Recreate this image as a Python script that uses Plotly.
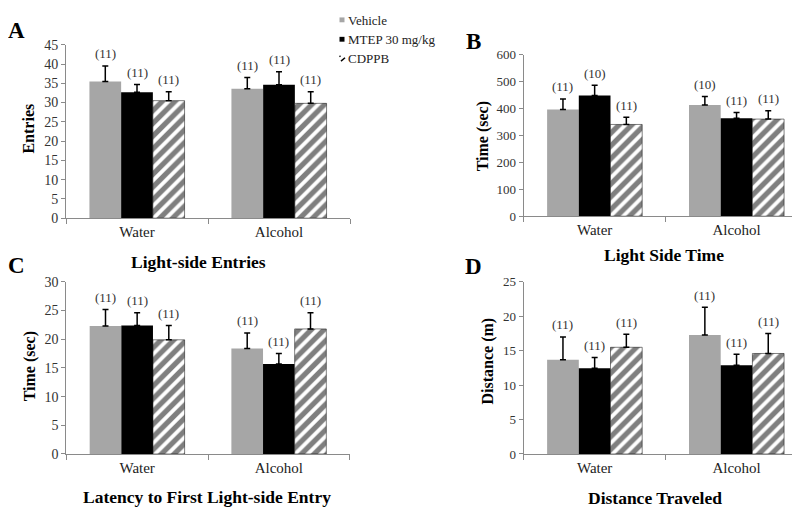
import plotly.graph_objects as go

categories = ["Water", "Alcohol"]
groups = ["Vehicle", "MTEP 30 mg/kg", "CDPPB"]

# Panel A: Light-side Entries
a_means = {"Vehicle": [35.5, 33.6], "MTEP 30 mg/kg": [32.7, 34.6], "CDPPB": [30.5, 29.8]}
a_errs = {"Vehicle": [4.0, 2.9], "MTEP 30 mg/kg": [2.0, 3.4], "CDPPB": [2.3, 3.0]}
a_ns = {"Vehicle": [11, 11], "MTEP 30 mg/kg": [11, 11], "CDPPB": [11, 11]}

# Panel B: Light Side Time
b_means = {"Vehicle": [397, 413], "MTEP 30 mg/kg": [449, 364], "CDPPB": [341, 361]}
b_errs = {"Vehicle": [39, 32], "MTEP 30 mg/kg": [38, 21], "CDPPB": [27, 31]}
b_ns = {"Vehicle": [11, 10], "MTEP 30 mg/kg": [10, 11], "CDPPB": [11, 11]}

# Panel C: Latency to First Light-side Entry
c_means = {"Vehicle": [22.3, 18.4], "MTEP 30 mg/kg": [22.4, 15.7], "CDPPB": [19.9, 21.8]}
c_errs = {"Vehicle": [2.9, 2.7], "MTEP 30 mg/kg": [2.2, 1.8], "CDPPB": [2.5, 2.8]}
c_ns = {"Vehicle": [11, 11], "MTEP 30 mg/kg": [11, 11], "CDPPB": [11, 11]}

# Panel D: Distance Traveled
d_means = {"Vehicle": [13.7, 17.3], "MTEP 30 mg/kg": [12.45, 12.9], "CDPPB": [15.5, 14.6]}
d_errs = {"Vehicle": [3.3, 4.0], "MTEP 30 mg/kg": [1.55, 1.6], "CDPPB": [1.9, 2.9]}
d_ns = {"Vehicle": [11, 11], "MTEP 30 mg/kg": [11, 11], "CDPPB": [11, 11]}

panels = [
    dict(key="A", means=a_means, errs=a_errs, ns=a_ns, ymax=45, dtick=5, ytitle="Entries",
         title="Light-side Entries"),
    dict(key="B", means=b_means, errs=b_errs, ns=b_ns, ymax=600, dtick=100, ytitle="Time (sec)",
         title="Light Side Time"),
    dict(key="C", means=c_means, errs=c_errs, ns=c_ns, ymax=30, dtick=5, ytitle="Time (sec)",
         title="Latency to First Light-side Entry"),
    dict(key="D", means=d_means, errs=d_errs, ns=d_ns, ymax=25, dtick=5, ytitle="Distance (m)",
         title="Distance Traveled"),
]

W, H = 800, 509
def px_x(p): return p / W
def px_y(p): return 1 - p / H

# layout geometry (pixels)
geom = {
    "A": dict(x=(58, 342), y=(30.7, 209.3), letter=(8.5, 15.5), ytitle=(21, 117), title=(190, 255),
              tick=14),
    "B": dict(x=(515.7, 799.5), y=(41, 207.3), letter=(465, 27.5), ytitle=(475, 125), title=(656, 247),
              tick=13),
    "C": dict(x=(58.3, 341.7), y=(275, 452.3), letter=(8, 258), ytitle=(22, 362), title=(199, 497),
              tick=14),
    "D": dict(x=(515.7, 799.5), y=(275, 452.3), letter=(465, 259.5), ytitle=(480, 357), title=(647, 498),
              tick=13),
}

FONT = "Liberation Serif, Times New Roman, DejaVu Serif, serif"
AXIS_COLOR = "#8a8a8a"
TEXT_COLOR = "#333333"
BARGAP = 0.33

styles = {
    "Vehicle": dict(marker=dict(color="#a6a6a6", line=dict(width=0))),
    "MTEP 30 mg/kg": dict(marker=dict(color="#000000", line=dict(width=0))),
    "CDPPB": dict(marker=dict(color="white", line=dict(color="black", width=0.5),
                              pattern=dict(shape="/", fgcolor="black", bgcolor="white",
                                           size=9, solidity=0.58))),
}

fig = go.Figure()
annotations = []
shapes = []

for i, p in enumerate(panels):
    k = p["key"]
    g = geom[k]
    xa = "x" if i == 0 else f"x{i+1}"
    ya = "y" if i == 0 else f"y{i+1}"
    for j, grp in enumerate(groups):
        fig.add_trace(go.Bar(
            x=categories, y=p["means"][grp], name=grp, xaxis=xa, yaxis=ya,
            showlegend=False,
            error_y=dict(type="data", array=p["errs"][grp], arrayminus=[0, 0], symmetric=False,
                         color="black", thickness=1.5, width=3),
            **styles[grp],
        ))
        w = (1 - BARGAP) / len(groups)
        for ci, cat in enumerate(categories):
            annotations.append(dict(
                x=ci + (j - 1) * w, y=p["means"][grp][ci] + p["errs"][grp][ci],
                xref=xa, yref=ya, text=f"({p['ns'][grp][ci]})", showarrow=False,
                yanchor="middle", yshift=12,
                font=dict(family=FONT, size=13, color=TEXT_COLOR),
            ))
    axis_x = dict(domain=[px_x(g["x"][0]), px_x(g["x"][1])], anchor=ya, type="category",
                  showline=True, linecolor=AXIS_COLOR, linewidth=1, showgrid=False,
                  ticks="outside", tickson="boundaries", ticklen=5, tickcolor=AXIS_COLOR,
                  tickfont=dict(family=FONT, size=15, color="#222222"), ticklabelstandoff=0,
                  zeroline=False, fixedrange=True)
    axis_y = dict(domain=[px_y(g["y"][1]), px_y(g["y"][0])], anchor=xa,
                  range=[0, p["ymax"]], dtick=p["dtick"], showline=True, linecolor=AXIS_COLOR,
                  linewidth=1, showgrid=False, zeroline=False, ticks="outside", ticklen=4,
                  tickcolor=AXIS_COLOR, tickfont=dict(family=FONT, size=g["tick"], color=TEXT_COLOR))
    fig.update_layout(**{("xaxis" if i == 0 else f"xaxis{i+1}"): axis_x,
                         ("yaxis" if i == 0 else f"yaxis{i+1}"): axis_y})
    # panel letter
    annotations.append(dict(x=px_x(g["letter"][0]), y=px_y(g["letter"][1]), xref="paper", yref="paper",
                            text=f"<b>{k}</b>", showarrow=False, xanchor="center", yanchor="middle",
                            font=dict(family=FONT, size=23, color="black")))
    # y-axis title
    annotations.append(dict(x=px_x(g["ytitle"][0]), y=px_y(g["ytitle"][1]), xref="paper", yref="paper",
                            text=f"<b>{p['ytitle']}</b>", showarrow=False, textangle=-90,
                            xanchor="center", yanchor="middle",
                            font=dict(family=FONT, size=16, color="black")))
    # panel title
    annotations.append(dict(x=px_x(g["title"][0]), y=px_y(g["title"][1]), xref="paper", yref="paper",
                            text=f"<b>{p['title']}</b>", showarrow=False, xanchor="center",
                            yanchor="middle", font=dict(family=FONT, size=17.5, color="black")))

# manual legend
legend_rows = [("Vehicle", 6), ("MTEP 30 mg/kg", 25), ("CDPPB", 45)]
for name, yy in legend_rows:
    annotations.append(dict(x=px_x(338), y=px_y(yy), xref="paper", yref="paper", text=name,
                            showarrow=False, xanchor="left", yanchor="middle",
                            font=dict(family=FONT, size=13, color="#222222")))
shapes.append(dict(type="rect", xref="paper", yref="paper", x0=px_x(331.5), x1=px_x(336.5),
                   y0=px_y(7.5), y1=px_y(2.5), fillcolor="#a6a6a6", line=dict(width=0)))
shapes.append(dict(type="rect", xref="paper", yref="paper", x0=px_x(331.5), x1=px_x(336.5),
                   y0=px_y(27.5), y1=px_y(22.5), fillcolor="black", line=dict(width=0)))
shapes.append(dict(type="line", xref="paper", yref="paper", x0=px_x(333), x1=px_x(337),
                   y0=px_y(47.5), y1=px_y(44), line=dict(color="black", width=1.5)))
shapes.append(dict(type="line", xref="paper", yref="paper", x0=px_x(331.5), x1=px_x(332.5),
                   y0=px_y(43), y1=px_y(42), line=dict(color="black", width=1.2)))

fig.update_layout(
    width=W, height=H, margin=dict(l=0, r=0, t=0, b=0),
    paper_bgcolor="white", plot_bgcolor="white",
    barmode="group", bargap=BARGAP, bargroupgap=0,
    annotations=annotations, shapes=shapes, showlegend=False,
    font=dict(family=FONT),
)

fig.write_html("out.html")
